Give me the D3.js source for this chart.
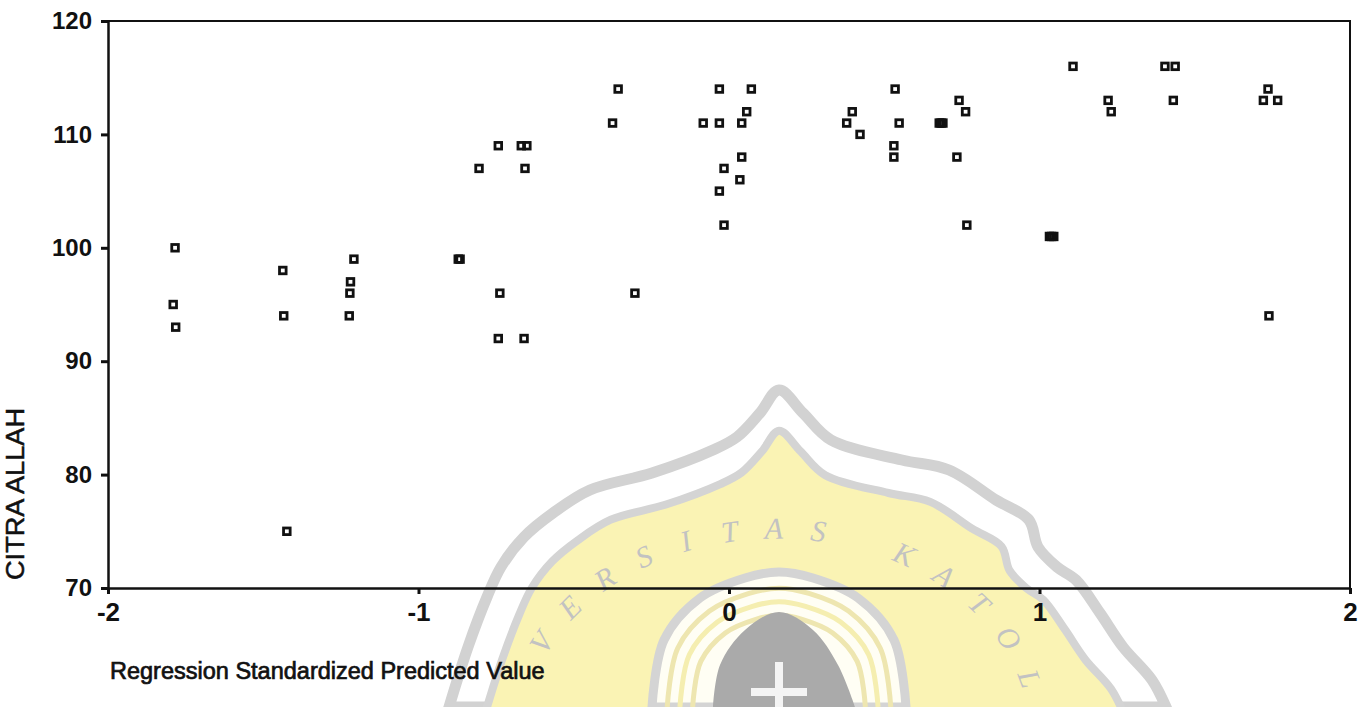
<!DOCTYPE html>
<html><head><meta charset="utf-8">
<script src="https://cdn.jsdelivr.net/npm/d3@7"></script>
<style>body{margin:0;background:#fff}svg{display:block}</style>
</head><body>
<svg id="c" width="1364" height="707"></svg>
<script>
// ---- data ----
const predictedValues = [
  -1.784, -1.790, -1.782,
  -1.437, -1.434, -1.424,
  -1.208, -1.219, -1.221, -1.223,
  -0.872, -0.866,
  -0.805, -0.743, -0.738, -0.743,
  -0.669, -0.651, -0.657, -0.660,
  -0.375, -0.357, -0.303,
  -0.083, -0.031, -0.031, -0.031, -0.016, -0.016,
  0.035, 0.041, 0.041, 0.057, 0.072,
  0.379, 0.397, 0.422,
  0.531, 0.531, 0.535, 0.548,
  0.677, 0.683, 0.689,
  0.734, 0.741, 0.762, 0.766,
  1.032, 1.039, 1.046,
  1.108, 1.221, 1.231,
  1.404, 1.437, 1.431,
  1.721, 1.736, 1.767, 1.739
];
const citraAllah = [
  100, 95, 93,
  98, 94, 75,
  99, 97, 96, 94,
  99, 99,
  107, 109, 96, 92,
  109, 109, 107, 92,
  111, 114, 96,
  111, 114, 111, 105, 107, 102,
  106, 111, 108, 112, 114,
  111, 112, 110,
  109, 108, 114, 111,
  111, 111, 111,
  108, 113, 112, 102,
  101, 101, 101,
  116, 113, 112,
  116, 116, 113,
  113, 114, 113, 94
];
const xTicks = [-2, -1, 0, 1, 2];
const yTicks = [70, 80, 90, 100, 110, 120];
const xDomain = [-2, 2];
const yDomain = [70, 120];
const xTitle = "Regression Standardized Predicted Value";
const yTitle = "CITRA ALLAH";
const watermarkWord = "VERSITAS KATOL";

// ---- layout ----
const svg = d3.select("#c");
const L = 108, R = 1350, T = 21, B = 588;
const x = d3.scaleLinear().domain(xDomain).range([L, R]);
const y = d3.scaleLinear().domain(yDomain).range([B, T]);
const FONT = "'Liberation Sans', Arial, Helvetica, sans-serif";

// ---- decorative background watermark (scanned page) ----
const wm = svg.append("g").attr("class", "watermark");
const outerPts = [[449,707],[468,647],[487,597],[501,567],[524,537],[553,513],[590,490],[652,473],[713,450],[737,437],[760,413],[779,390],
  [803,413],[831,440],[902,460],[949,470],[996,500],[1029,520],[1038,547],[1057,567],[1076,580],[1100,613],[1123,647],[1152,680],[1166,707]];
const line = d3.line().curve(d3.curveCatmullRom.alpha(0.5));
const cx = 779, cy = 760;
const innerPts = outerPts.map(p => [cx + (p[0]-cx)*0.89, cy + (p[1]-cy)*0.89]);
wm.append("path").attr("d", line(outerPts) + "Z").attr("fill", "#ffffff").attr("stroke", "#d2d2d2").attr("stroke-width", 11);
wm.append("path").attr("d", line(innerPts) + "Z").attr("fill", "#faf3b4").attr("stroke", "#d4d4d4").attr("stroke-width", 8);
const archPts = [[652,707],[664,640],[700,598],[745,578],[779,572],[813,578],[858,598],[894,640],[906,707]];
wm.append("path").attr("d", line(archPts) + "Z").attr("fill", "#fffef4").attr("stroke", "#d4d4d4").attr("stroke-width", 9);
[0.88, 0.78, 0.68].forEach((s, i) => {
  const pts = archPts.map(p => [779 + (p[0]-779)*s, 707 - (707-p[1])*s]);
  wm.append("path").attr("d", line(pts)).attr("fill", "none").attr("stroke", i % 2 ? "#f5eeb0" : "#eee6b0").attr("stroke-width", 5);
});
const shieldPts = [[713,707],[720,665],[745,630],[779,612],[813,630],[838,665],[855,707]];
wm.append("path").attr("d", line(shieldPts) + "Z").attr("fill", "#aaaaaa");
wm.append("rect").attr("x", 775).attr("y", 662).attr("width", 8).attr("height", 45).attr("fill", "#f4f4f4");
wm.append("rect").attr("x", 751).attr("y", 688).attr("width", 56).attr("height", 8).attr("fill", "#f4f4f4");
const arc = wm.append("path").attr("d", "M550,648 A253,197 0 0 1 1020,682").attr("fill", "none").node();
const arcLen = arc.getTotalLength();
const chars = watermarkWord.split("");
chars.forEach((ch, i) => {
  if (ch === " ") return;
  const t = i / (chars.length - 1) * arcLen;
  const p = arc.getPointAtLength(t);
  const p2 = arc.getPointAtLength(Math.min(arcLen, t + 1));
  const p1 = arc.getPointAtLength(Math.max(0, t - 1));
  const ang = Math.atan2(p2.y - p1.y, p2.x - p1.x) * 180 / Math.PI;
  wm.append("text").attr("transform", `translate(${p.x},${p.y}) rotate(${ang})`)
    .attr("text-anchor", "middle")
    .attr("font-family", "'Liberation Serif', 'DejaVu Serif', serif").attr("font-style", "italic")
    .attr("font-size", 30).attr("fill", "#c2c2c2").text(ch);
});

// ---- chart ----
const g = svg.append("g");

g.append("path").attr("d", `M${L},${T}H${R}V${B}`).attr("fill", "none").attr("stroke", "#111").attr("stroke-width", 2);

const yAxis = d3.axisLeft(y).tickValues(yTicks).tickFormat(d3.format("d")).tickSize(7).tickSizeOuter(0).tickPadding(9);
const ya = g.append("g").attr("transform", `translate(${L},0)`).call(yAxis);
ya.select(".domain").attr("stroke", "#111").attr("stroke-width", 2.5);
ya.selectAll(".tick line").attr("stroke", "#111").attr("stroke-width", 3);
ya.selectAll(".tick text").attr("font-family", FONT).attr("font-weight", "bold").attr("font-size", 24).attr("fill", "#111");

const xAxis = d3.axisBottom(x).tickValues(xTicks).tickFormat(d3.format("d")).tickSize(6).tickSizeOuter(0).tickPadding(9);
const xa = g.append("g").attr("transform", `translate(0,${B})`).call(xAxis);
xa.select(".domain").attr("stroke", "#111").attr("stroke-width", 2.5);
xa.selectAll(".tick line").attr("stroke", "#111").attr("stroke-width", 3);
xa.selectAll(".tick text").attr("font-family", FONT).attr("font-weight", "bold").attr("font-size", 26).attr("fill", "#111")
  .text(d => d < 0 ? "-" + Math.abs(d) : d);

// points
const pts = predictedValues.map((v, i) => ({ x: v, y: citraAllah[i] }));
const S = 6.6;
g.append("g").selectAll("rect").data(pts).join("rect")
  .attr("x", d => x(d.x) - S/2).attr("y", d => y(d.y) - S/2)
  .attr("width", S).attr("height", S)
  .attr("fill", "none").attr("stroke", "#111").attr("stroke-width", 2.8);

// titles
svg.append("text").attr("x", 110).attr("y", 679)
  .attr("font-family", FONT).attr("font-size", 23.5).attr("fill", "#111")
  .attr("stroke", "#111").attr("stroke-width", 0.7)
  .text(xTitle);

svg.append("text").attr("transform", "translate(24,494) rotate(-90)")
  .attr("text-anchor", "middle")
  .attr("font-family", FONT).attr("font-size", 25).attr("fill", "#111")
  .attr("stroke", "#111").attr("stroke-width", 0.5)
  .attr("textLength", 172).attr("lengthAdjust", "spacingAndGlyphs")
  .text(yTitle);
</script>
</body></html>
